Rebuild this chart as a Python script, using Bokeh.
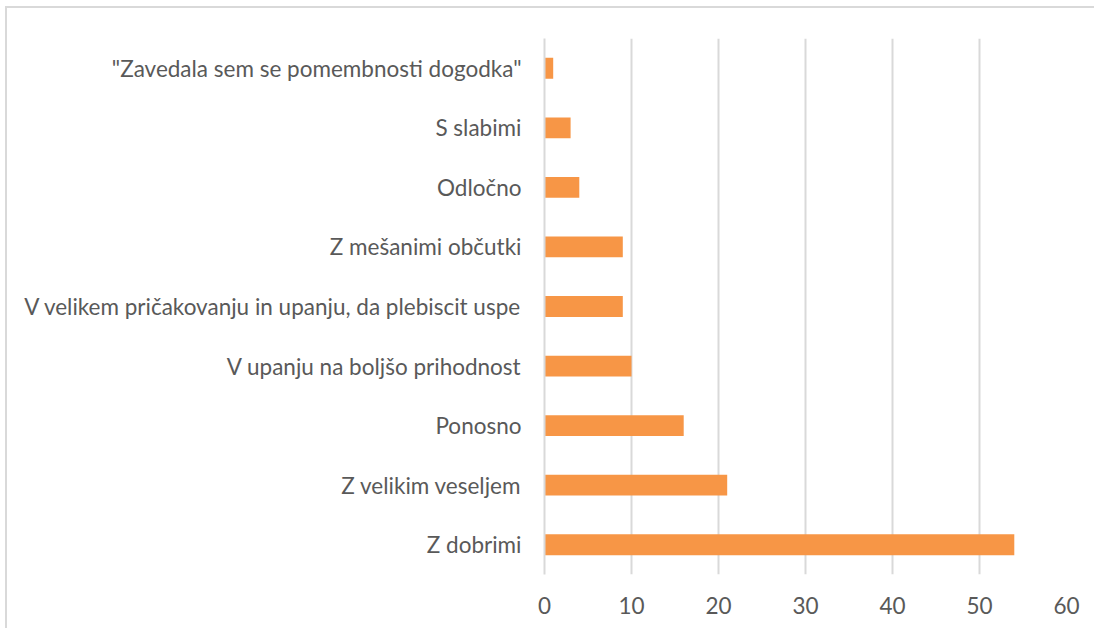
from bokeh.plotting import figure
from bokeh.models import Range1d, FactorRange, ColumnDataSource, FixedTicker
from bokeh.embed import file_html
from bokeh.resources import INLINE

categories = [
    '"Zavedala sem se pomembnosti dogodka"',
    "S slabimi",
    "Odločno",
    "Z mešanimi občutki",
    "V velikem pričakovanju in upanju, da plebiscit uspe",
    "V upanju na boljšo prihodnost",
    "Ponosno",
    "Z velikim veseljem",
    "Z dobrimi",
]
values = [1, 3, 4, 9, 9, 10, 16, 21, 54]
x_ticks = [0, 10, 20, 30, 40, 50, 60]

source = ColumnDataSource(data=dict(cat=categories, val=values))

FONT = "Lato"
FS = "22.5px"

p = figure(
    width=1089, height=622,
    y_range=FactorRange(factors=list(reversed(categories)), range_padding=0),
    x_range=Range1d(0, 60),
    output_backend="svg", toolbar_location=None,
    min_border_left=537, min_border_right=30, min_border_top=30, min_border_bottom=56,
)
p.hbar(y="cat", right="val", left=0, height=0.35, source=source,
       fill_color="#F79646", line_color=None)

p.outline_line_color = None
p.styles = {
    "border-top": "2px solid #D9D9D9",
    "border-left": "2px solid #D9D9D9",
    "margin-left": "5px",
    "margin-top": "6px",
}

p.xaxis.ticker = FixedTicker(ticks=x_ticks)
p.xaxis.axis_line_color = None
p.xaxis.major_tick_line_color = None
p.xaxis.minor_tick_line_color = None
p.xaxis.major_label_text_font = FONT
p.xaxis.major_label_text_font_size = FS
p.xaxis.major_label_text_color = "#595959"
p.xaxis.major_label_standoff = 16

p.yaxis.axis_line_color = "#D9D9D9"
p.yaxis.axis_line_width = 2
p.yaxis.major_tick_line_color = None
p.yaxis.minor_tick_line_color = None
p.yaxis.major_label_text_font = FONT
p.yaxis.major_label_text_font_size = FS
p.yaxis.major_label_text_color = "#595959"
p.yaxis.major_label_standoff = 17

p.xgrid.grid_line_color = "#D9D9D9"
p.xgrid.grid_line_width = 2
p.ygrid.grid_line_color = None

open("out.html", "w").write(file_html(p, INLINE))
